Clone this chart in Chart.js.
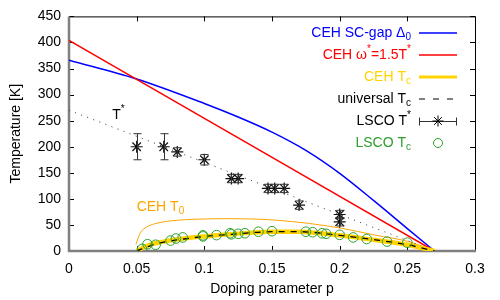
<!DOCTYPE html>
<html>
<head>
<meta charset="utf-8">
<script src="https://cdn.jsdelivr.net/npm/chart.js@4"></script>
<style>
  html, body { margin: 0; padding: 0; background: #fff; }
</style>
</head>
<body>
<canvas id="chart" width="500" height="300"></canvas>
<script>
// values: doping p vs temperature [K]
const gapP = [0, 0.05, 0.1, 0.125, 0.15, 0.175, 0.2, 0.225, 0.25, 0.27];
const gapT = [366, 330, 283, 257, 228, 193, 149, 97, 43, 0];

const omegaP = [0, 0.135, 0.27];
const omegaT = [404, 202, 0];

const cehTcP = [0.05, 0.06, 0.07, 0.085, 0.1, 0.119, 0.149, 0.17, 0.2, 0.226, 0.251, 0.27];
const cehTcT = [0, 12, 18, 24, 28, 32, 37, 37, 30, 21, 11.5, 0];

const univTcP = [0.05, 0.06, 0.07, 0.085, 0.1, 0.12, 0.15, 0.17, 0.2, 0.225, 0.25, 0.27];
const univTcT = [0, 10, 17, 23, 28, 32, 37, 37, 30, 22, 12, 0];

const t0P = [0.0495, 0.0525, 0.0574, 0.063, 0.07, 0.08, 0.094, 0.119, 0.14, 0.1535, 0.177, 0.2017, 0.226, 0.251, 0.27];
const t0T = [13, 34, 46, 52, 56, 59, 61, 62, 61, 59, 53, 43.5, 30.5, 18, 0];

const tStarLineP = [0, 0.27];
const tStarLineT = [270, 0];

const lscoTStarP = [0.05, 0.07, 0.08, 0.1, 0.12, 0.125, 0.147, 0.152, 0.159, 0.17, 0.2, 0.2];
const lscoTStarT = [200, 200, 190, 175, 139, 139, 120, 120, 120, 88, 70, 56];
const lscoTStarErr = [25, 25, 8, 10, 8, 8, 8, 8, 8, 8, 8, 8];

const lscoTcP = [0.054, 0.058, 0.064, 0.075, 0.079, 0.084, 0.099, 0.099, 0.109, 0.119, 0.12, 0.125, 0.13, 0.14, 0.15,
                 0.175, 0.18, 0.187, 0.19, 0.2, 0.21, 0.22, 0.235, 0.25];
const lscoTcT = [4, 13, 12, 20, 24, 26, 30, 28, 30.5, 34, 32, 33, 34, 37, 38,
                 37, 36, 34, 33, 31, 26, 23, 18, 16];

const FONT = '"Liberation Sans", Arial, sans-serif';
const BLUE = '#0000ff', RED = '#ff0000', GOLD = '#ffd400', ORANGE = '#ffa500', GREEN = '#2e9e2e';

const pts = (xs, ys) => xs.map((x, i) => ({ x, y: ys[i] }));

// text with sub/superscripts: parts = [[text, mode]]
function richText(ctx, parts, x, y, align) {
  const fontFor = (m) => (m ? '10px ' : '14px ') + FONT;
  let w = 0;
  parts.forEach(([t, m]) => { ctx.font = fontFor(m); w += ctx.measureText(t).width; });
  let cx = align === 'right' ? x - w : x;
  ctx.textAlign = 'left';
  ctx.textBaseline = 'middle';
  parts.forEach(([t, m]) => {
    ctx.font = fontFor(m);
    const dy = m === 'sub' ? 4 : m === 'sup' ? -6 : 0;
    ctx.fillText(t, cx, y + dy);
    cx += ctx.measureText(t).width;
  });
}

const legendItems = [
  { parts: [['CEH SC-gap Δ', ''], ['0', 'sub']], color: BLUE, kind: 'line', stroke: BLUE, width: 1.5 },
  { parts: [['CEH ω', ''], ['*', 'sup'], ['=1.5T', ''], ['*', 'sup']], color: RED, kind: 'line', stroke: RED, width: 1.5 },
  { parts: [['CEH T', ''], ['c', 'sub']], color: GOLD, kind: 'line', stroke: GOLD, width: 3 },
  { parts: [['universal T', ''], ['c', 'sub']], color: '#000', kind: 'dash' },
  { parts: [['LSCO T', ''], ['*', 'sup']], color: '#000', kind: 'star' },
  { parts: [['LSCO T', ''], ['c', 'sub']], color: GREEN, kind: 'circle' },
];

const framePlugin = {
  id: 'frame',
  beforeDatasetsDraw(chart) {
    const { ctx, chartArea: a, scales: { x, y } } = chart;
    ctx.save();
    ctx.strokeStyle = '#000';
    ctx.lineWidth = 1;
    ctx.beginPath();
    ctx.moveTo(a.left, a.top + 0.5);
    ctx.lineTo(a.right + 0.5, a.top + 0.5);
    ctx.lineTo(a.right + 0.5, a.bottom);
    ctx.stroke();
    x.ticks.forEach((t) => {
      const px = Math.round(x.getPixelForValue(t.value)) + 0.5;
      ctx.beginPath();
      ctx.moveTo(px, a.bottom); ctx.lineTo(px, a.bottom - 5);
      ctx.moveTo(px, a.top); ctx.lineTo(px, a.top + 5);
      ctx.stroke();
    });
    y.ticks.forEach((t) => {
      const py = Math.round(y.getPixelForValue(t.value)) + 0.5;
      ctx.beginPath();
      ctx.moveTo(a.left, py); ctx.lineTo(a.left + 5, py);
      ctx.moveTo(a.right, py); ctx.lineTo(a.right - 5, py);
      ctx.stroke();
    });
    ctx.strokeStyle = '#808080';
    ctx.lineWidth = 2.5;
    ctx.beginPath();
    ctx.moveTo(a.left, a.top);
    ctx.lineTo(a.left, a.bottom);
    ctx.lineTo(a.right + 1, a.bottom);
    ctx.stroke();
    ctx.restore();
  },
  afterDatasetDraw(chart, args) {
    if (chart.data.datasets[args.index].label !== 'LSCO T*') return;
    const { ctx, scales: { x, y } } = chart;
    ctx.save();
    ctx.strokeStyle = '#333';
    ctx.lineWidth = 1;
    lscoTStarP.forEach((p, i) => {
      const px = Math.round(x.getPixelForValue(p)) + 0.5;
      const y1 = y.getPixelForValue(lscoTStarT[i] + lscoTStarErr[i]);
      const y2 = y.getPixelForValue(lscoTStarT[i] - lscoTStarErr[i]);
      ctx.beginPath();
      ctx.moveTo(px, y1); ctx.lineTo(px, y2);
      ctx.moveTo(px - 4, y1); ctx.lineTo(px + 4, y1);
      ctx.moveTo(px - 4, y2); ctx.lineTo(px + 4, y2);
      ctx.stroke();
    });
    ctx.restore();
  },
  afterDraw(chart) {
    const { ctx, scales: { x, y } } = chart;
    ctx.save();
    // curve labels
    ctx.fillStyle = '#000';
    richText(ctx, [['T', ''], ['*', 'sup']], x.getPixelForValue(0.032), y.getPixelForValue(260), 'left');
    ctx.fillStyle = ORANGE;
    richText(ctx, [['CEH T', ''], ['0', 'sub']], x.getPixelForValue(0.05), y.getPixelForValue(84), 'left');

    // legend, gnuplot style
    const textRight = 411, s0 = 419, s1 = 457, sm = (s0 + s1) / 2;
    legendItems.forEach((it, i) => {
      const ly = 33 + i * 22;
      ctx.fillStyle = it.color;
      richText(ctx, it.parts, textRight, ly, 'right');
      ctx.beginPath();
      if (it.kind === 'line') {
        ctx.strokeStyle = it.stroke; ctx.lineWidth = it.width;
        ctx.moveTo(s0, ly); ctx.lineTo(s1, ly); ctx.stroke();
      } else if (it.kind === 'dash') {
        ctx.strokeStyle = '#000'; ctx.lineWidth = 1.2; ctx.setLineDash([6, 8]);
        ctx.moveTo(s0, ly); ctx.lineTo(s1, ly); ctx.stroke();
        ctx.setLineDash([]);
      } else if (it.kind === 'star') {
        ctx.strokeStyle = '#333'; ctx.lineWidth = 1;
        ctx.moveTo(s0, ly + 0.5); ctx.lineTo(s1, ly + 0.5);
        ctx.moveTo(s0 + 0.5, ly - 3.5); ctx.lineTo(s0 + 0.5, ly + 4.5);
        ctx.moveTo(s1 - 0.5, ly - 3.5); ctx.lineTo(s1 - 0.5, ly + 4.5);
        ctx.stroke();
        ctx.beginPath();
        ctx.strokeStyle = '#000';
        const r = 5.5, d = r * Math.SQRT1_2;
        ctx.moveTo(sm - r, ly); ctx.lineTo(sm + r, ly);
        ctx.moveTo(sm, ly - r); ctx.lineTo(sm, ly + r);
        ctx.moveTo(sm - d, ly - d); ctx.lineTo(sm + d, ly + d);
        ctx.moveTo(sm - d, ly + d); ctx.lineTo(sm + d, ly - d);
        ctx.stroke();
      } else if (it.kind === 'circle') {
        ctx.strokeStyle = GREEN; ctx.lineWidth = 1;
        ctx.arc(sm, ly, 4.5, 0, Math.PI * 2); ctx.stroke();
      }
    });
    ctx.restore();
  },
};

const lineSet = (label, xs, ys, color, width, order, extra = {}) => ({
  type: 'line', label, data: pts(xs, ys), borderColor: color, borderWidth: width,
  pointRadius: 0, fill: false, cubicInterpolationMode: 'monotone', order, ...extra,
});

new Chart(document.getElementById('chart').getContext('2d'), {
  type: 'scatter',
  data: {
    datasets: [
      {
        label: 'LSCO Tc', data: pts(lscoTcP, lscoTcT), pointStyle: 'circle', pointRadius: 4.8,
        borderColor: GREEN, backgroundColor: 'rgba(0,0,0,0)', borderWidth: 1, order: 0,
      },
      {
        label: 'LSCO T*', data: pts(lscoTStarP, lscoTStarT), pointStyle: 'star', pointRadius: 6,
        borderColor: '#111', backgroundColor: '#000', borderWidth: 1.2, order: 1,
      },
      lineSet('universal Tc', univTcP, univTcT, '#000', 1.3, 2, { borderDash: [6, 6] }),
      lineSet('CEH Tc', cehTcP, cehTcT, GOLD, 4.5, 3),
      lineSet('T* line', tStarLineP, tStarLineT, '#333', 1, 4, { borderDash: [1, 5.5] }),
      lineSet('CEH T0', t0P, t0T, ORANGE, 1, 5),
      lineSet('CEH omega*', omegaP, omegaT, RED, 1.5, 6),
      lineSet('CEH SC-gap', gapP, gapT, BLUE, 1.5, 7),
    ],
  },
  options: {
    responsive: false,
    animation: false,
    layout: { padding: { top: 15, right: 25, left: 0, bottom: 0 } },
    plugins: { legend: { display: false }, tooltip: { enabled: false } },
    scales: {
      x: {
        type: 'linear', min: 0, max: 0.3,
        grid: { display: false, drawTicks: false }, border: { display: false },
        ticks: { stepSize: 0.05, padding: 10, color: '#000', font: { family: FONT, size: 14 },
                 callback: (v) => String(Math.round(v * 100) / 100) },
        title: { display: true, text: 'Doping parameter p', color: '#000',
                 font: { family: FONT, size: 14 }, padding: { top: 0, bottom: 2 } },
        afterFit: (s) => { s.height = 49; },
      },
      y: {
        min: 0, max: 450,
        grid: { display: false, drawTicks: false }, border: { display: false },
        ticks: { stepSize: 50, padding: 8, color: '#000', font: { family: FONT, size: 14 } },
        title: { display: true, text: 'Temperature [K]', color: '#000',
                 font: { family: FONT, size: 14 }, padding: { top: 8, bottom: 0 } },
        afterFit: (s) => { s.width = 69; },
      },
    },
  },
  plugins: [framePlugin],
});
</script>
</body>
</html>
